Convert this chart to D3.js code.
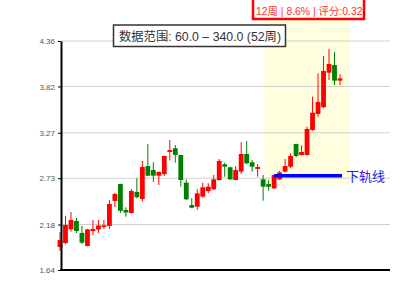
<!DOCTYPE html>
<html><head><meta charset="utf-8">
<script src="https://cdn.jsdelivr.net/npm/d3@7/dist/d3.min.js"></script>
<style>
html,body{margin:0;padding:0;background:#fff;}
svg{display:block;font-family:"Liberation Sans","Noto Sans CJK SC",sans-serif;}
</style></head>
<body><svg id="c" width="400" height="300"></svg>
<script>
const weeks = d3.range(52);
const openV  = [1.913,1.961,2.123,2.222,2.080,1.925,2.103,2.121,2.151,2.163,2.460,2.661,2.353,2.317,2.567,2.483,2.875,2.828,2.760,2.780,3.042,3.086,3.006,2.677,2.412,2.392,2.511,2.578,2.599,2.709,2.896,2.860,2.709,2.808,3.018,2.919,2.840,2.717,2.661,2.610,2.717,2.808,2.867,3.137,3.006,3.006,3.303,3.493,3.573,3.984,4.075,3.889];
const closeV = [1.996,2.175,2.234,2.103,1.964,2.123,2.127,2.169,2.171,2.424,2.543,2.344,2.323,2.578,2.504,2.863,2.760,2.760,2.804,2.994,3.065,3.006,2.709,2.480,2.380,2.551,2.622,2.629,2.717,2.935,2.867,2.717,2.828,3.018,2.907,2.867,2.863,2.629,2.629,2.768,2.800,2.875,2.994,2.994,3.042,3.315,3.508,3.636,4.004,4.087,3.889,3.917];
const highV  = [2.091,2.281,2.329,2.258,2.163,2.127,2.234,2.234,2.234,2.471,2.555,2.665,2.385,2.602,2.729,2.935,3.137,2.919,2.810,3.000,3.184,3.125,3.010,2.717,2.492,2.599,2.677,2.670,2.768,2.958,2.915,2.865,2.875,3.157,3.172,2.947,2.899,2.768,2.709,2.770,2.816,2.958,3.026,3.140,3.121,3.342,3.699,3.976,4.182,4.265,4.229,3.965];
const lowV   = [1.866,1.949,2.095,2.080,1.949,1.920,2.056,2.080,2.127,2.127,2.388,2.317,2.273,2.311,2.492,2.454,2.755,2.685,2.650,2.757,2.941,2.915,2.629,2.471,2.373,2.353,2.499,2.551,2.590,2.701,2.748,2.709,2.705,2.780,2.896,2.808,2.748,2.463,2.582,2.602,2.709,2.800,2.848,2.979,3.000,3.000,3.295,3.461,3.561,3.897,3.837,3.837];
const yTicks = [1.64, 2.18, 2.73, 3.27, 3.82, 4.36];
const lowerBand = 2.76;
const bandStart = 39, bandEnd = 51;
const hlStart = 37, hlEnd = 51, hlBottom = 2.65;
const rangeText = "数据范围: 60.0 – 340.0 (52周)";
const infoText = "12周 | 8.6% | 评分:0.32";
const bandLabel = "下轨线";

const svg = d3.select("#c");
const x = d3.scaleLinear().domain([0, 51]).range([60, 340]);
const y = d3.scaleLinear().domain([1.64, 4.36]).range([270, 41]);
const left = 61, right = 390;

// highlight
svg.append("rect").attr("x", x(hlStart) + 1).attr("y", 20)
  .attr("width", x(hlEnd) + 10 - x(hlStart) - 1).attr("height", y(hlBottom) - 20)
  .attr("fill", "#ffffe0");

// grid
svg.append("g").selectAll("line").data(yTicks.slice(1)).join("line")
  .attr("x1", left).attr("x2", right).attr("y1", d => y(d)).attr("y2", d => y(d))
  .attr("stroke", "#cfcfcf").attr("stroke-width", 1);

// candles
const g = svg.append("g");
weeks.forEach(i => {
  const up = closeV[i] >= openV[i];
  const col = up ? "#ff0000" : "#008000";
  g.append("line").attr("x1", x(i)).attr("x2", x(i))
    .attr("y1", y(highV[i])).attr("y2", y(lowV[i]))
    .attr("stroke", col).attr("stroke-width", 1);
  const top = y(Math.max(openV[i], closeV[i]));
  const bot = y(Math.min(openV[i], closeV[i]));
  g.append("rect").attr("x", x(i) - 2.4).attr("width", 4.8)
    .attr("y", top).attr("height", Math.max(1.5, bot - top)).attr("fill", col);
});

// axes
const yAxis = d3.axisLeft(y).tickValues(yTicks).tickFormat(d3.format(".2f")).tickSize(3).tickSizeOuter(0);
const ya = svg.append("g").attr("transform", `translate(${left},0)`).call(yAxis);
ya.select(".domain").attr("stroke", "#000").attr("stroke-width", 2);
ya.selectAll(".tick line").attr("stroke", "#000");
ya.selectAll(".tick text").attr("font-size", 8).attr("fill", "#555").attr("x", -6)
  .attr("font-family", "Liberation Sans, sans-serif");
svg.append("line").attr("x1", left - 1).attr("x2", right).attr("y1", 270).attr("y2", 270)
  .attr("stroke", "#000").attr("stroke-width", 2);

// lower band
svg.append("line").attr("x1", x(bandStart)).attr("x2", x(bandEnd) + 2)
  .attr("y1", y(lowerBand)).attr("y2", y(lowerBand))
  .attr("stroke", "#0000ff").attr("stroke-width", 3.5);
svg.append("text").attr("x", 346).attr("y", 181).attr("font-size", 13)
  .attr("fill", "#2020ee").text(bandLabel);

// range tooltip
svg.append("rect").attr("x", 113.5).attr("y", 25).attr("width", 172).attr("height", 21.5)
  .attr("fill", "#fff").attr("stroke", "#333").attr("stroke-width", 1.5);
svg.append("text").attr("x", 119).attr("y", 40.5).attr("font-size", 12.3)
  .attr("fill", "#333").text(rangeText);

// info box
svg.append("rect").attr("x", 253).attr("y", -20).attr("width", 111).attr("height", 39)
  .attr("fill", "#fff").attr("stroke", "#ff0000").attr("stroke-width", 2.5);
svg.append("text").attr("x", 256).attr("y", 15).attr("font-size", 10.4)
  .attr("fill", "#ff3030").text(infoText);
</script></body></html>
